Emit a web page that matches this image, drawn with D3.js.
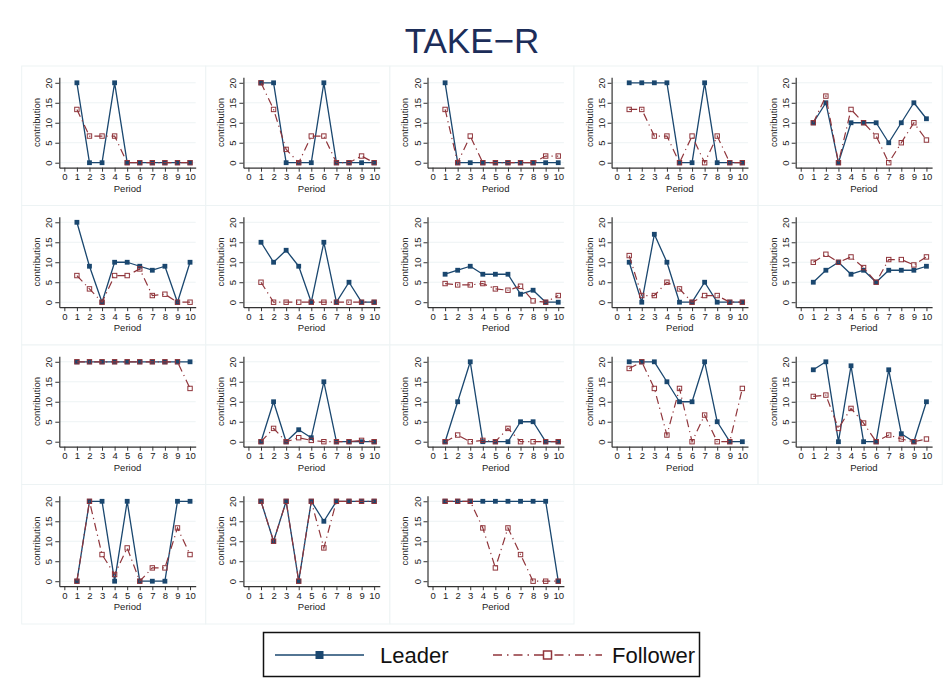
<!DOCTYPE html>
<html>
<head>
<meta charset="utf-8">
<script src="https://cdn.jsdelivr.net/npm/d3@7"></script>
<style>
  html, body { margin: 0; padding: 0; background: #ffffff; }
  svg { display: block; font-family: "Liberation Sans", Arial, sans-serif; }
</style>
</head>
<body>
<svg id="chart" width="944" height="695"></svg>
<script>
// Contributions per period for each leader/follower group
const periods = [1, 2, 3, 4, 5, 6, 7, 8, 9, 10];
const xTicks = [0, 1, 2, 3, 4, 5, 6, 7, 8, 9, 10];
const yTicks = [0, 5, 10, 15, 20];
const seriesNames = ["Leader", "Follower"];

const leader1  = [20, 0, 0, 20, 0, 0, 0, 0, 0, 0];
const follow1  = [13.33, 6.67, 6.67, 6.67, 0, 0, 0, 0, 0, 0];
const leader2  = [20, 20, 0, 0, 0, 20, 0, 0, 0, 0];
const follow2  = [20, 13.33, 3.33, 0, 6.67, 6.67, 0, 0, 1.67, 0];
const leader3  = [20, 0, 0, 0, 0, 0, 0, 0, 0, 0];
const follow3  = [13.33, 0, 6.67, 0, 0, 0, 0, 0, 1.67, 1.67];
const leader4  = [20, 20, 20, 20, 0, 0, 20, 0, 0, 0];
const follow4  = [13.33, 13.33, 6.67, 6.67, 0, 6.67, 0, 6.67, 0, 0];
const leader5  = [10, 15, 0, 10, 10, 10, 5, 10, 15, 11];
const follow5  = [10, 16.67, 0, 13.33, 10, 6.67, 0, 5, 10, 5.67];
const leader6  = [20, 9, 0, 10, 10, 9, 8, 9, 0, 10];
const follow6  = [6.67, 3.33, 0, 6.67, 6.67, 8.33, 1.67, 2, 0, 0];
const leader7  = [15, 10, 13, 9, 0, 15, 0, 5, 0, 0];
const follow7  = [5, 0, 0, 0, 0, 0, 0, 0, 0, 0];
const leader8  = [7, 8, 9, 7, 7, 7, 2, 3, 0, 0];
const follow8  = [4.67, 4.33, 4.33, 4.67, 3.33, 3, 4, 0.33, 0, 1.67];
const leader9  = [10, 0, 17, 10, 0, 0, 5, 0, 0, 0];
const follow9  = [11.67, 1.67, 1.67, 5, 3.33, 0, 1.67, 1.67, 0, 0];
const leader10 = [5, 8, 10, 7, 8, 5, 8, 8, 8, 9];
const follow10 = [10, 12, 10, 11.33, 8.67, 5, 10.67, 10.67, 9.33, 11.33];
const leader11 = [20, 20, 20, 20, 20, 20, 20, 20, 20, 20];
const follow11 = [20, 20, 20, 20, 20, 20, 20, 20, 20, 13.33];
const leader12 = [0, 10, 0, 3, 1, 15, 0, 0, 0, 0];
const follow12 = [0, 3.33, 0, 1, 0.33, 0, 0, 0, 0.33, 0];
const leader13 = [0, 10, 20, 0, 0, 0, 5, 5, 0, 0];
const follow13 = [0, 1.67, 0, 0.33, 0, 3.33, 0, 0, 0, 0];
const leader14 = [20, 20, 20, 15, 10, 10, 20, 5, 0, 0];
const follow14 = [18.33, 20, 13.33, 1.67, 13.33, 0, 6.67, 0, 0, 13.33];
const leader15 = [18, 20, 0, 19, 0, 0, 18, 2, 0, 10];
const follow15 = [11.33, 11.67, 3.33, 8.33, 4.67, 0, 1.67, 0.67, 0, 0.67];
const leader16 = [0, 20, 20, 0, 20, 0, 0, 0, 20, 20];
const follow16 = [0, 20, 6.67, 1.67, 8.33, 0, 3.33, 3.33, 13.33, 6.67];
const leader17 = [20, 10, 20, 0, 20, 15, 20, 20, 20, 20];
const follow17 = [20, 10, 20, 0, 20, 8.33, 20, 20, 20, 20];
const leader18 = [20, 20, 20, 20, 20, 20, 20, 20, 20, 0];
const follow18 = [20, 20, 20, 13.33, 3.33, 13.33, 6.67, 0, 0, 0];

const groups = [
  [leader1, follow1], [leader2, follow2], [leader3, follow3], [leader4, follow4], [leader5, follow5],
  [leader6, follow6], [leader7, follow7], [leader8, follow8], [leader9, follow9], [leader10, follow10],
  [leader11, follow11], [leader12, follow12], [leader13, follow13], [leader14, follow14], [leader15, follow15],
  [leader16, follow16], [leader17, follow17], [leader18, follow18]
];

const navy = "#1a476f";
const maroon = "#90353b";
const faint = "#edf3f4";
const dashDot = "8,4,1.2,4";

const svg = d3.select("#chart");

// Title
svg.append("text")
  .attr("x", 472).attr("y", 53)
  .attr("text-anchor", "middle")
  .attr("font-size", 35)
  .attr("fill", "#1c2d59")
  .text("TAKE\u2212R");

const cols = 5, colStep = 184.1, rowStep = 139.5, left0 = 21.7, top0 = 66;

groups.forEach(([lead, foll], i) => {
  const c = i % cols, r = Math.floor(i / cols);
  const px = left0 + c * colStep, py = top0 + r * rowStep;
  const g = svg.append("g");

  // panel frame
  g.append("rect")
    .attr("x", px).attr("y", py)
    .attr("width", colStep).attr("height", rowStep)
    .attr("fill", "#ffffff").attr("stroke", faint).attr("stroke-width", 1);

  const x = d3.scaleLinear().domain([-0.4, 10.45]).range([px + 37.6, px + 174]);
  const y = d3.scaleLinear().domain([-1.25, 21.4]).range([py + 101.7, py + 11.2]);

  // horizontal gridlines
  g.append("g").selectAll("line").data(yTicks).join("line")
    .attr("x1", x(-0.4)).attr("x2", x(10.45))
    .attr("y1", d => y(d)).attr("y2", d => y(d))
    .attr("stroke", faint).attr("stroke-width", 1);

  // y axis
  const ya = g.append("g")
    .attr("transform", `translate(${x(-0.4)},0)`)
    .call(d3.axisLeft(y).tickValues(yTicks).tickSize(4).tickPadding(2).tickSizeOuter(0));
  ya.select(".domain").attr("stroke", "#333").attr("stroke-width", 1.2);
  ya.selectAll(".tick line").attr("stroke", "#333");
  ya.selectAll(".tick text")
    .attr("font-size", 9.5).attr("fill", "#222")
    .attr("font-family", "Liberation Sans, Arial, sans-serif")
    .attr("transform", "translate(-7,0) rotate(-90)")
    .attr("x", 0).attr("dy", "0")
    .attr("text-anchor", "middle");

  // x axis
  const xa = g.append("g")
    .attr("transform", `translate(0,${y(-1.25)})`)
    .call(d3.axisBottom(x).tickValues(xTicks).tickFormat(d3.format("d")).tickSize(4).tickPadding(2).tickSizeOuter(0));
  xa.select(".domain").attr("stroke", "#333").attr("stroke-width", 1.2);
  xa.selectAll(".tick line").attr("stroke", "#333");
  xa.selectAll(".tick text")
    .attr("font-size", 9.5).attr("fill", "#222")
    .attr("font-family", "Liberation Sans, Arial, sans-serif");

  // axis titles
  g.append("text")
    .attr("x", (x(-0.4) + x(10.45)) / 2).attr("y", py + 125.5)
    .attr("text-anchor", "middle").attr("font-size", 9.5).attr("fill", "#222")
    .text("Period");
  g.append("text")
    .attr("transform", `translate(${px + 18.5},${(y(-1.25) + y(21.4)) / 2}) rotate(-90)`)
    .attr("text-anchor", "middle").attr("font-size", 9.5).attr("fill", "#222")
    .text("contribution");

  const line = d3.line().x((d, j) => x(periods[j])).y(d => y(d));

  // Leader series
  g.append("path").datum(lead)
    .attr("d", line).attr("fill", "none")
    .attr("stroke", navy).attr("stroke-width", 1.3).attr("stroke-linejoin", "round");
  g.append("g").selectAll("rect").data(lead).join("rect")
    .attr("x", (d, j) => x(periods[j]) - 2.4).attr("y", d => y(d) - 2.4)
    .attr("width", 4.8).attr("height", 4.8).attr("fill", navy);

  // Follower series
  g.append("path").datum(foll)
    .attr("d", line).attr("fill", "none")
    .attr("stroke", maroon).attr("stroke-width", 1.2)
    .attr("stroke-dasharray", dashDot);
  g.append("g").selectAll("rect").data(foll).join("rect")
    .attr("x", (d, j) => x(periods[j]) - 2.2).attr("y", d => y(d) - 2.2)
    .attr("width", 4.4).attr("height", 4.4)
    .attr("fill", "none").attr("stroke", maroon).attr("stroke-width", 1);
});

// Legend
const lg = svg.append("g");
lg.append("rect")
  .attr("x", 263.5).attr("y", 632.5).attr("width", 436).attr("height", 44)
  .attr("fill", "#ffffff").attr("stroke", "#111").attr("stroke-width", 1.5);

const legendItems = [
  { name: seriesNames[0], x1: 275, x2: 364, tx: 380, color: navy, dash: null, filled: true },
  { name: seriesNames[1], x1: 493, x2: 602, tx: 612, color: maroon, dash: "9,5,1.5,5", filled: false }
];
legendItems.forEach(it => {
  lg.append("line")
    .attr("x1", it.x1).attr("x2", it.x2).attr("y1", 655).attr("y2", 655)
    .attr("stroke", it.color).attr("stroke-width", 1.6)
    .attr("stroke-dasharray", it.dash);
  const mx = (it.x1 + it.x2) / 2;
  lg.append("rect")
    .attr("x", mx - 4).attr("y", 651).attr("width", 8).attr("height", 8)
    .attr("fill", it.filled ? it.color : "#ffffff")
    .attr("stroke", it.filled ? "none" : it.color).attr("stroke-width", 1.5);
  lg.append("text")
    .attr("x", it.tx).attr("y", 663)
    .attr("font-size", 22).attr("fill", "#111")
    .text(it.name);
});
</script>
</body>
</html>
